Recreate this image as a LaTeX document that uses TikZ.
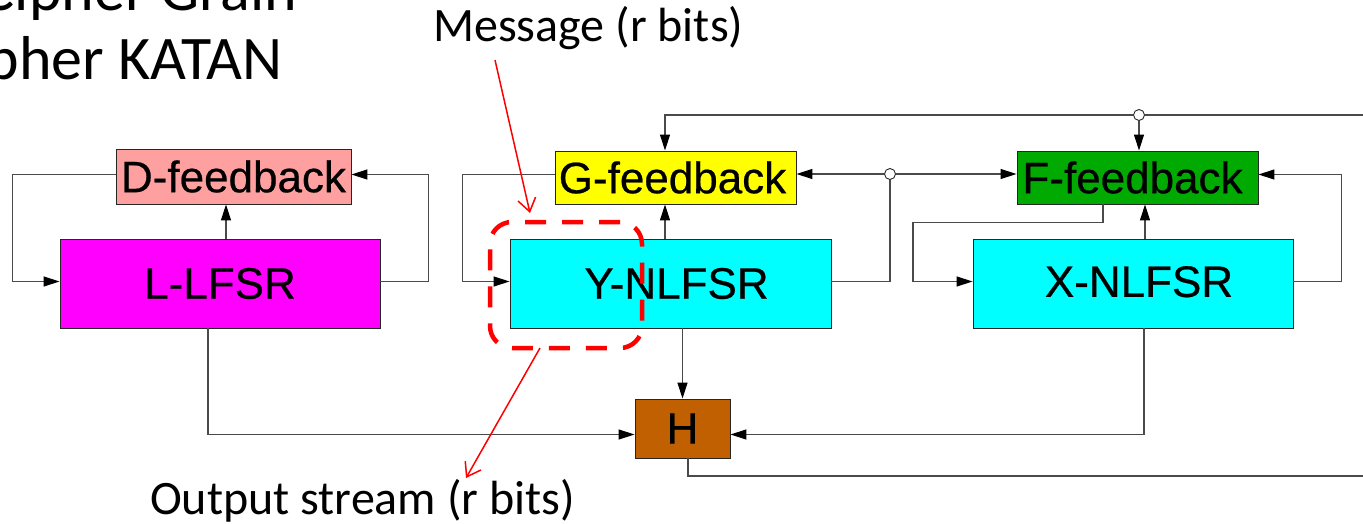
\documentclass[tikz,border=0pt]{standalone}
\usepackage{fontspec}
\setmainfont{Liberation Sans}
\newfontfamily\calib{Carlito}
\newfontfamily\boxfont[FakeBold=0.5]{Liberation Sans}
\usetikzlibrary{arrows.meta,calc}
\definecolor{dsalmon}{HTML}{FFA0A0}
\definecolor{dmag}{HTML}{FF00FF}
\definecolor{dyel}{HTML}{FFFF00}
\definecolor{dcyan}{HTML}{00FFFF}
\definecolor{dgreen}{HTML}{00AA00}
\definecolor{dbrown}{HTML}{C06000}
\definecolor{wirec}{HTML}{4A4A4A}
\begin{document}
\begin{tikzpicture}[x=1pt,y=-1pt,
  box/.style={draw=black!85, line width=0.9pt, inner sep=0pt, font=\boxfont\fontsize{44}{44}\selectfont},
  wire/.style={draw=wirec, line width=1.1pt},
  arr/.style={wire, -{Triangle[length=16pt,width=10pt,color=black,fill=black]}},
  redarr/.style={draw=red, line width=1.5pt, -{Straight Barb[length=13pt,width=18pt]}},
  xorc/.style={circle, draw=black!85, fill=white, inner sep=0pt, minimum size=11pt, line width=0.9pt},
  calibtext/.style={font=\calib\fontsize{48}{48}\selectfont, inner sep=0pt},
  titletext/.style={font=\calib\fontsize{62}{62}\selectfont, inner sep=0pt}]
\useasboundingbox (0,0) rectangle (1363,524);
\clip (0,0) rectangle (1363,524);
\fill[white] (0,0) rectangle (1363,524);

% title fragments
\node[titletext, anchor=base east] (t1) at (297,11) {Stream Cipher Grain};
\node[titletext, anchor=base east] (t2) at (283,80) {Block Cipher KATAN};

% boxes
\node[box, fill=dsalmon, minimum width=235, minimum height=55] (dfb) at (233.5,176.5) {D-feedback};
\node[box, fill=dmag, minimum width=320, minimum height=89] (llfsr) at (220,283.5) {\raisebox{-5pt}{L-LFSR}};
\node[box, fill=dyel, minimum width=241, minimum height=53] (gfb) at (675.5,177.5) {\hspace*{-6pt}G-feedback};
\node[box, fill=dcyan, minimum width=321, minimum height=89] (ynl) at (670.5,283.5) {\hspace*{12pt}Y-NLFSR};
\node[box, fill=dgreen, minimum width=241, minimum height=53] (ffb) at (1137.5,177.5) {\hspace*{-10pt}F-feedback};
\node[box, fill=dcyan, minimum width=320, minimum height=89] (xnl) at (1133,283.5) {\hspace*{12pt}\raisebox{4pt}{X-NLFSR}};
\node[box, fill=dbrown, minimum width=95, minimum height=59] (h) at (682.5,428.5) {H};

% xor circles and free ends
\node[xorc] (c1) at (890,174) {};
\node[xorc] (c2) at (1139,115) {};
\coordinate (topR) at (1363,115);
\coordinate (outR) at (1363,476);

% L-LFSR / D-feedback
\draw[arr] ([xshift=6pt]llfsr.north) -- ([xshift=6pt]llfsr.north |- dfb.south);
\draw[arr] ([yshift=2pt]dfb.west) -- ++(-103,0) |- ([yshift=2pt]llfsr.west);
\draw[arr] ([yshift=2pt]llfsr.east) -- ++(48,0) |- ([yshift=2pt]dfb.east);
\draw[arr] ([xshift=-12pt]llfsr.south) |- ([yshift=-6pt]h.west);

% Y-NLFSR / G-feedback
\draw[arr] ([xshift=-5.5pt]ynl.north) -- ([xshift=-5.5pt]ynl.north |- gfb.south);
\draw[arr] ([yshift=3pt]gfb.west) -- ++(-92,0) |- ([yshift=2pt]ynl.west);
\draw[wire] ([yshift=2pt]ynl.east) -| (c1.south);
\draw[arr] (c1.west) -- (c1.west -| gfb.east);
\draw[arr] (c1.east) -- (c1.east -| ffb.west);
\draw[arr] (h.north |- ynl.south) -- (h.north);

% top line
\draw[wire] (topR) -- (c2.east);
\draw[arr] (c2.west) -| ([xshift=-10.5pt]gfb.north);
\draw[arr] (c2.south) -- (c2.south |- ffb.north);

% X-NLFSR / F-feedback
\draw[arr] ([xshift=12pt]xnl.north) -- ([xshift=12pt]xnl.north |- ffb.south);
\draw[arr] ([xshift=-34.5pt]ffb.south) |- ++(-190,18) |- ([yshift=2pt]xnl.west);
\draw[arr] ([yshift=2pt]xnl.east) -- ++(48,0) |- ([yshift=3pt]ffb.east);
\draw[arr] ([xshift=11pt]xnl.south) |- ([yshift=-6pt]h.east);

% output of H
\draw[wire] ([xshift=5.5pt]h.south) |- (outR);

% red selection
\node[draw=red, line width=4.5pt, dash pattern=on 21pt off 16pt, rounded corners=22pt,
      minimum width=152, minimum height=126, inner sep=0pt] (sel) at (566,285) {};

% texts
\node[calibtext, anchor=base west] (msg) at (433,42) {Message (r bits)};
\node[calibtext, anchor=base west] (outs) at (150,514) {Output stream (r bits)};
\coordinate (m1) at (495,60);
\coordinate (m2) at (530,213);
\coordinate (o1) at (540,348);
\coordinate (o2) at (466,478);
\draw[redarr] (m1) -- (m2);
\draw[redarr] (o1) -- (o2);
\end{tikzpicture}
\end{document}
